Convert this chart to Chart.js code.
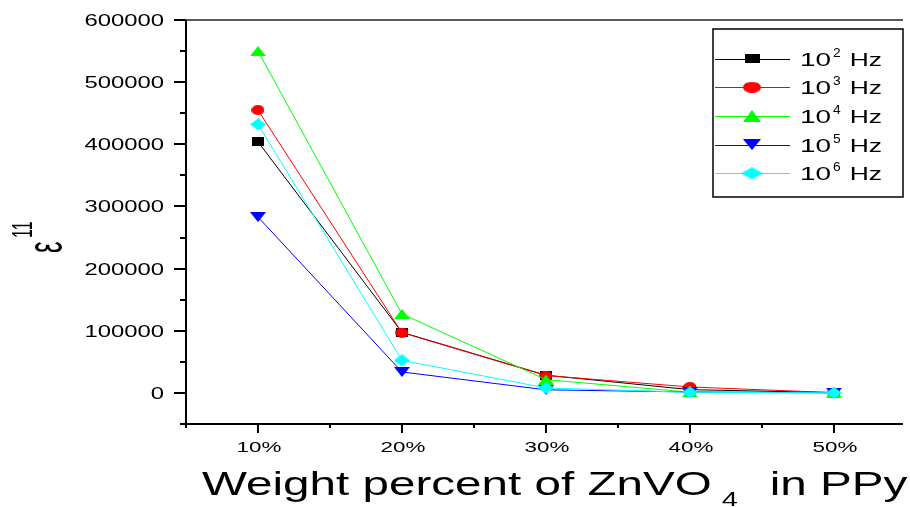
<!DOCTYPE html>
<html>
<head>
<meta charset="utf-8">
<script src="https://cdn.jsdelivr.net/npm/chart.js@4.4.1/dist/chart.umd.min.js"></script>
<style>
  html, body { margin: 0; padding: 0; background: #fff; }
  #wrap { width: 910px; height: 507px; }
</style>
</head>
<body>
<div id="wrap"><canvas id="eps-chart"></canvas></div>
<script>
// ZnVO4 content in PPy (wt %)
const weightPct = [10, 20, 30, 40, 50];

// dielectric constant at each frequency
const eps1e2Hz = [404000, 97500, 28500, 5300, 500];
const eps1e3Hz = [455000, 97000, 28000, 9600, 500];
const eps1e4Hz = [550000, 127000, 21400, 1200, 300];
const eps1e5Hz = [283000, 33700, 5000, 1500, 200];
const eps1e6Hz = [432000, 52400, 8000, 1000, 300];

// legend exponents: 10^n Hz
const freqExp = [2, 3, 4, 5, 6];

// axis ticks
const xTickValues = [10, 20, 30, 40, 50];
const xTickLabels = ['10%', '20%', '30%', '40%', '50%'];
const yTickValues = [0, 100000, 200000, 300000, 400000, 500000, 600000];
const yTickLabels = ['0', '100000', '200000', '300000', '400000', '500000', '600000'];

const FONT = '"Liberation Sans", Arial, sans-serif';

// filled marker drawn into a small canvas (Chart.js accepts a canvas as pointStyle)
function makeMarker(shape, color, w, h) {
  const c = document.createElement('canvas');
  c.width = w;
  c.height = h;
  const g = c.getContext('2d');
  g.fillStyle = color;
  g.beginPath();
  if (shape === 'square') {
    g.rect(0, 0, w, h);
  } else if (shape === 'circle') {
    g.ellipse(w / 2, h / 2, w / 2, h / 2, 0, 0, Math.PI * 2);
  } else if (shape === 'up') {
    g.moveTo(w / 2, 0); g.lineTo(w, h); g.lineTo(0, h);
  } else if (shape === 'down') {
    g.moveTo(0, 0); g.lineTo(w, 0); g.lineTo(w / 2, h);
  } else if (shape === 'diamond') {
    g.moveTo(w / 2, 0); g.lineTo(w, h / 2); g.lineTo(w / 2, h); g.lineTo(0, h / 2);
  }
  g.closePath();
  g.fill();
  return c;
}

// text squeezed/stretched horizontally by sx
function drawText(ctx, text, x, y, size, sx, align) {
  ctx.save();
  ctx.font = size + 'px ' + FONT;
  const w = ctx.measureText(text).width * sx;
  let x0 = x;
  if (align === 'right') x0 = x - w;
  else if (align === 'center') x0 = x - w / 2;
  ctx.translate(x0, y);
  ctx.scale(sx, 1);
  ctx.textAlign = 'left';
  ctx.textBaseline = 'alphabetic';
  ctx.fillStyle = '#000';
  ctx.fillText(text, 0, 0);
  ctx.restore();
  return w;
}

const series = [
  { data: eps1e2Hz, color: '#000000', shape: 'square', size: [12, 9], legSize: [15, 9] },
  { data: eps1e3Hz, color: '#ff0000', shape: 'circle', size: [13, 10], legSize: [18, 11] },
  { data: eps1e4Hz, color: '#00ff00', shape: 'up', size: [16, 10], legSize: [18, 12] },
  { data: eps1e5Hz, color: '#0000ff', shape: 'down', size: [16, 10], legSize: [18, 11] },
  { data: eps1e6Hz, color: '#00ffff', shape: 'diamond', size: [16, 12], legSize: [22, 12] },
];

const datasets = series.map((s, i) => ({
  label: '10^' + freqExp[i] + ' Hz',
  data: s.data.map((v, j) => ({ x: weightPct[j], y: v })),
  borderColor: s.color,
  backgroundColor: s.color,
  borderWidth: 1,
  pointStyle: makeMarker(s.shape, s.color, s.size[0], s.size[1]),
  pointRadius: 6,
  legendMarker: makeMarker(s.shape, s.color, s.legSize[0], s.legSize[1]),
  exp: freqExp[i],
  // later series painted over earlier ones
  order: series.length - 1 - i,
  fill: false,
  tension: 0,
}));

// frame, tick marks and tick labels
const axesPlugin = {
  id: 'originAxes',
  beforeDatasetsDraw(chart) {
    const { ctx, chartArea: a, scales: { x, y } } = chart;
    ctx.save();

    // top frame line
    ctx.lineWidth = 1.5;
    ctx.strokeStyle = '#222';
    ctx.beginPath();
    ctx.moveTo(a.left, a.top);
    ctx.lineTo(a.right, a.top);
    ctx.stroke();

    // left and bottom axes
    ctx.strokeStyle = '#000';
    ctx.lineWidth = 2;
    ctx.beginPath();
    ctx.moveTo(a.left, a.top);
    ctx.lineTo(a.left, a.bottom);
    ctx.moveTo(a.left - 6, a.bottom);
    ctx.lineTo(a.right, a.bottom);
    ctx.stroke();

    // y ticks
    for (let v = y.min; v <= y.max; v += 50000) {
      const py = Math.round(y.getPixelForValue(v));
      const major = yTickValues.includes(v);
      ctx.beginPath();
      ctx.moveTo(a.left - (major ? 12 : 6), py);
      ctx.lineTo(a.left, py);
      ctx.stroke();
    }
    yTickValues.forEach((v, i) => {
      drawText(ctx, yTickLabels[i], 164, y.getPixelForValue(v) + 6, 16, 1.49, 'right');
    });

    // x ticks
    for (let v = 5; v <= x.max; v += 5) {
      const px = Math.round(x.getPixelForValue(v));
      const major = xTickValues.includes(v);
      ctx.beginPath();
      ctx.moveTo(px, a.bottom);
      ctx.lineTo(px, a.bottom + (major ? 9 : 4));
      ctx.stroke();
    }
    xTickValues.forEach((v, i) => {
      drawText(ctx, xTickLabels[i], x.getPixelForValue(v) + 1, 452, 14, 1.6, 'center');
    });
    ctx.restore();
  },
};

// axis titles
const titlesPlugin = {
  id: 'axisTitles',
  afterDraw(chart) {
    const { ctx } = chart;

    // x title with subscript 4
    let cx = 202;
    cx += drawText(ctx, 'Weight percent of ZnVO', cx, 495, 34, 1.4, 'left');
    cx += 10;
    cx += drawText(ctx, '4', cx, 506, 21, 1.37, 'left');
    cx += 32;
    drawText(ctx, 'in PPy', cx, 495, 34, 1.4, 'left');

    // rotated y title: epsilon with superscript 11
    ctx.save();
    ctx.translate(62, 253);
    ctx.rotate(-Math.PI / 2);
    ctx.scale(1, 1.9);
    ctx.fillStyle = '#000';
    ctx.textBaseline = 'alphabetic';
    ctx.font = '26px ' + FONT;
    ctx.fillText('ε', 0, 0);
    ctx.font = '16px ' + FONT;
    ctx.fillText('11', 15, -16);
    ctx.restore();
  },
};

// boxed legend inside the plot
const legendPlugin = {
  id: 'boxLegend',
  afterDraw(chart) {
    const { ctx } = chart;
    const box = { x: 713, y: 29, w: 190, h: 168 };
    ctx.save();
    ctx.fillStyle = '#fff';
    ctx.fillRect(box.x, box.y, box.w, box.h);
    ctx.strokeStyle = '#000';
    ctx.lineWidth = 1.5;
    ctx.strokeRect(box.x, box.y, box.w, box.h);

    chart.data.datasets.forEach((ds, i) => {
      const cy = 58.5 + i * 28.7;
      ctx.strokeStyle = ds.borderColor;
      ctx.lineWidth = 1;
      ctx.beginPath();
      ctx.moveTo(715, Math.round(cy) + 0.5);
      ctx.lineTo(790, Math.round(cy) + 0.5);
      ctx.stroke();
      const m = ds.legendMarker;
      ctx.drawImage(m, 752 - m.width / 2, cy - m.height / 2);

      let tx = 800;
      tx += drawText(ctx, '10', tx, cy + 7, 18, 1.55, 'left');
      tx += 2;
      tx += drawText(ctx, String(ds.exp), tx, cy - 2, 12, 1.15, 'left');
      tx += 9;
      drawText(ctx, 'Hz', tx, cy + 7, 18, 1.47, 'left');
    });
    ctx.restore();
  },
};

new Chart(document.getElementById('eps-chart'), {
  type: 'line',
  data: { datasets },
  options: {
    responsive: true,
    maintainAspectRatio: false,
    animation: false,
    layout: { padding: { top: 20, left: 0, right: 0, bottom: 0 } },
    plugins: {
      legend: { display: false },
      tooltip: { enabled: false },
    },
    scales: {
      x: {
        type: 'linear',
        min: 5,
        max: 54.8,
        ticks: { display: false },
        grid: { display: false },
        border: { display: false },
        afterFit(scale) { scale.height = 83; },
      },
      y: {
        type: 'linear',
        min: -50000,
        max: 600000,
        ticks: { display: false },
        grid: { display: false },
        border: { display: false },
        afterFit(scale) { scale.width = 186; },
      },
    },
  },
  plugins: [axesPlugin, titlesPlugin, legendPlugin],
});
</script>
</body>
</html>
